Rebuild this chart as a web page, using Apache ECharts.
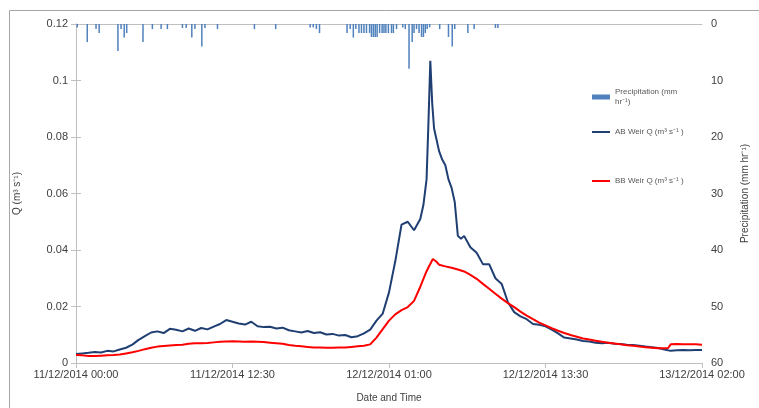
<!DOCTYPE html>
<html><head><meta charset="utf-8">
<script src="https://cdn.jsdelivr.net/npm/echarts@6/dist/echarts.min.js"></script>
<style>html,body{margin:0;padding:0;background:#fff}#c{width:759px;height:408px}</style>
</head><body><div id="c"></div>
<script>
var xTickLabels = ["11/12/2014 00:00","11/12/2014 12:30","12/12/2014 01:00","12/12/2014 13:30","13/12/2014 02:00"];
var seriesNames = ["Precipitation (mm\nhr\u207B\u00B9)","AB Weir Q (m\u00B3 s\u207B\u00B9 )","BB Weir Q (m\u00B3 s\u207B\u00B9 )"];

var abTime = [0,0.5,1,1.5,2,2.5,3,3.5,4,4.5,5,5.5,6,6.5,7,7.5,8,8.5,9,9.5,10,10.5,11,11.5,12,12.5,13,13.5,14,14.5,15,15.5,16,16.5,17,17.5,18,18.5,19,19.5,20,20.5,21,21.5,22,22.5,23,23.5,24,24.5,25,25.5,26,26.5,27,27.5,27.75,28,28.15,28.3,28.45,28.6,28.8,29,29.25,29.5,29.75,30,30.25,30.5,30.75,31,31.5,32,32.5,33,33.5,34,34.5,35,35.5,36,36.5,37,37.5,38,38.5,39,39.5,40,40.5,41,41.5,42,42.5,43,43.5,44,44.5,45,45.5,46,46.5,47,47.5,48,48.5,49,49.5,50];
var abQ = [0.0032,0.0034,0.0036,0.0039,0.0037,0.0043,0.0041,0.0048,0.0054,0.0065,0.0082,0.0095,0.0108,0.0112,0.0106,0.0121,0.0118,0.0112,0.0122,0.0114,0.0124,0.0119,0.0129,0.0138,0.0152,0.0146,0.0140,0.0136,0.0146,0.0130,0.0127,0.0128,0.0122,0.0125,0.0116,0.0112,0.0108,0.0113,0.0106,0.0109,0.0101,0.0103,0.0097,0.0099,0.0091,0.0095,0.0105,0.0118,0.0150,0.0175,0.0250,0.0360,0.0490,0.0500,0.0470,0.0510,0.0560,0.0650,0.0850,0.1070,0.0920,0.0830,0.0790,0.0750,0.0720,0.0700,0.0650,0.0620,0.0570,0.0450,0.0440,0.0450,0.0410,0.0390,0.0350,0.0350,0.0300,0.0280,0.0215,0.0180,0.0165,0.0155,0.0138,0.0135,0.0130,0.0118,0.0105,0.0090,0.0087,0.0083,0.0078,0.0076,0.0072,0.0070,0.0072,0.0068,0.0067,0.0065,0.0064,0.0061,0.0058,0.0056,0.0053,0.0048,0.0043,0.0045,0.0046,0.0045,0.0046,0.0046];

var bbTime = [0,0.5,1,1.5,2,2.5,3,3.5,4,4.5,5,5.5,6,6.5,7,7.5,8,8.5,9,9.5,10,10.5,11,11.5,12,12.5,13,13.5,14,14.5,15,15.5,16,16.5,17,17.5,18,18.5,19,19.5,20,20.5,21,21.5,22,22.5,23,23.5,24,24.5,25,25.5,26,26.5,27,27.5,28,28.5,28.75,29,29.5,30,30.5,31,31.5,32,32.5,33,33.5,34,34.5,35,35.5,36,36.5,37,37.5,38,38.5,39,39.5,40,40.5,41,41.5,42,42.5,43,43.5,44,44.5,45,45.5,46,46.5,47,47.3,47.5,48,48.5,49,49.5,50];
var bbQ = [0.0028,0.0027,0.0025,0.0025,0.0026,0.0027,0.0028,0.0030,0.0034,0.0038,0.0043,0.0049,0.0054,0.0058,0.0060,0.0062,0.0064,0.0065,0.0068,0.0070,0.0070,0.0071,0.0073,0.0075,0.0076,0.0077,0.0076,0.0075,0.0076,0.0075,0.0074,0.0072,0.0070,0.0068,0.0064,0.0061,0.0059,0.0057,0.0055,0.0055,0.0054,0.0054,0.0055,0.0055,0.0057,0.0059,0.0061,0.0066,0.0090,0.0120,0.0150,0.0172,0.0187,0.0198,0.0220,0.0270,0.0325,0.0368,0.0360,0.0348,0.0342,0.0337,0.0331,0.0324,0.0312,0.0298,0.0280,0.0263,0.0245,0.0228,0.0212,0.0198,0.0182,0.0168,0.0155,0.0143,0.0133,0.0123,0.0114,0.0106,0.0099,0.0093,0.0087,0.0083,0.0079,0.0075,0.0072,0.0069,0.0066,0.0063,0.0061,0.0058,0.0056,0.0054,0.0052,0.0052,0.0053,0.0066,0.0067,0.0066,0.0066,0.0066,0.0065];

var rainTime = [0.1,0.9,1.6,1.85,3.35,3.6,3.85,4.05,5.35,6.1,6.8,7.3,8.5,8.8,9.25,9.5,10.05,10.3,11.3,14.25,15.95,18.7,18.95,19.2,19.45,21.65,21.9,22.15,22.35,22.6,22.8,23.0,23.2,23.45,23.6,23.75,23.9,24.05,24.25,24.45,24.6,24.75,24.95,25.2,25.35,25.6,26.1,26.3,26.6,26.85,27.0,27.2,27.4,27.6,27.75,27.9,28.05,28.25,29.05,29.75,30.05,30.25,31.3,31.8,33.5,33.7];
var rainMM = [0.6,3.2,0.9,1.6,4.8,0.9,2.4,1.6,3.2,0.9,0.9,0.9,0.7,0.7,2.4,0.9,4.0,0.7,0.9,0.9,0.9,0.6,0.6,0.9,1.6,1.6,0.9,2.4,0.9,1.6,1.6,1.6,1.6,1.6,2.3,2.3,2.3,2.3,1.6,1.6,1.6,1.6,1.6,1.6,1.6,0.9,0.6,0.9,7.9,3.2,1.6,0.9,1.6,2.3,2.3,1.6,0.9,0.6,0.9,2.3,4.0,0.9,1.6,0.9,0.7,0.7];

function pairs(t, v){ return t.map(function(x,i){ return [x, v[i]]; }); }

var chart = echarts.init(document.getElementById('c'), null, {renderer:'canvas'});
var axisGray = '#bfbfbf';
var labelCol = '#404040';
var font = 'Liberation Sans, Arial, sans-serif';
chart.setOption({
  animation:false,
  backgroundColor:'#ffffff',
  textStyle:{fontFamily:font},
  grid:{left:76, right:57, top:24, bottom:44, containLabel:false},
  graphic:[{type:'rect', left:7, top:8, shape:{width:800, height:500}, style:{fill:'none', stroke:'#a6a6a6', lineWidth:1}, silent:true}],
  legend:[
    {data:[{name:seriesNames[0], icon:'rect'}], left:587, top:82, itemWidth:18, itemHeight:5, itemGap:4, textStyle:{fontSize:8, color:'#595959', lineHeight:10, fontFamily:font}},
    {data:[{name:seriesNames[1], icon:'rect'}], left:587, top:123, itemWidth:18, itemHeight:2, textStyle:{fontSize:8, color:'#595959', fontFamily:font}},
    {data:[{name:seriesNames[2], icon:'rect'}], left:587, top:172, itemWidth:18, itemHeight:2, textStyle:{fontSize:8, color:'#595959', fontFamily:font}}
  ],
  xAxis:[{
    type:'value', min:0, max:50, interval:12.5, position:'bottom',
    name:'Date and Time', nameLocation:'middle', nameGap:30,
    nameTextStyle:{fontSize:10, color:labelCol, fontFamily:font},
    axisLine:{lineStyle:{color:axisGray}},
    axisTick:{show:true, length:5, lineStyle:{color:axisGray}},
    axisLabel:{fontSize:11, color:labelCol, margin:6, fontFamily:font, formatter:function(v){return xTickLabels[Math.round(v/12.5)];}},
    splitLine:{show:false}
  },{
    type:'value', min:0, max:50, position:'top',
    axisLine:{show:true, lineStyle:{color:axisGray}}, axisTick:{show:false}, axisLabel:{show:false}, splitLine:{show:false}
  }],
  yAxis:[{
    type:'value', min:0, max:0.12, interval:0.02, position:'left',
    name:'Q (m\u00B3 s\u207B\u00B9)', nameLocation:'middle', nameGap:54,
    nameTextStyle:{fontSize:10, color:labelCol, fontFamily:font},
    axisLine:{show:true, lineStyle:{color:axisGray}},
    axisTick:{show:true, length:5, lineStyle:{color:axisGray}},
    axisLabel:{fontSize:11, color:labelCol, margin:8, fontFamily:font},
    splitLine:{show:false}
  },{
    type:'value', min:0, max:60, interval:10, position:'right', inverse:true,
    name:'Precipitation (mm hr\u207B\u00B9)', nameLocation:'middle', nameGap:38,
    nameTextStyle:{fontSize:10, color:labelCol, fontFamily:font},
    axisLine:{show:true, lineStyle:{color:axisGray}},
    axisTick:{show:true, length:5, lineStyle:{color:axisGray}},
    axisLabel:{fontSize:11, color:labelCol, margin:9, fontFamily:font},
    splitLine:{show:false}
  }],
  series:[
    {name:seriesNames[0], type:'bar', xAxisIndex:0, yAxisIndex:1, barWidth:1.5, data:pairs(rainTime, rainMM), itemStyle:{color:'#4f81bd'}},
    {name:seriesNames[1], type:'line', xAxisIndex:0, yAxisIndex:0, showSymbol:false, data:pairs(abTime, abQ), lineStyle:{color:'#1f3f73', width:2}, itemStyle:{color:'#1f3f73'}},
    {name:seriesNames[2], type:'line', xAxisIndex:0, yAxisIndex:0, showSymbol:false, data:pairs(bbTime, bbQ), lineStyle:{color:'#ff0000', width:2}, itemStyle:{color:'#ff0000'}}
  ]
});
</script></body></html>
